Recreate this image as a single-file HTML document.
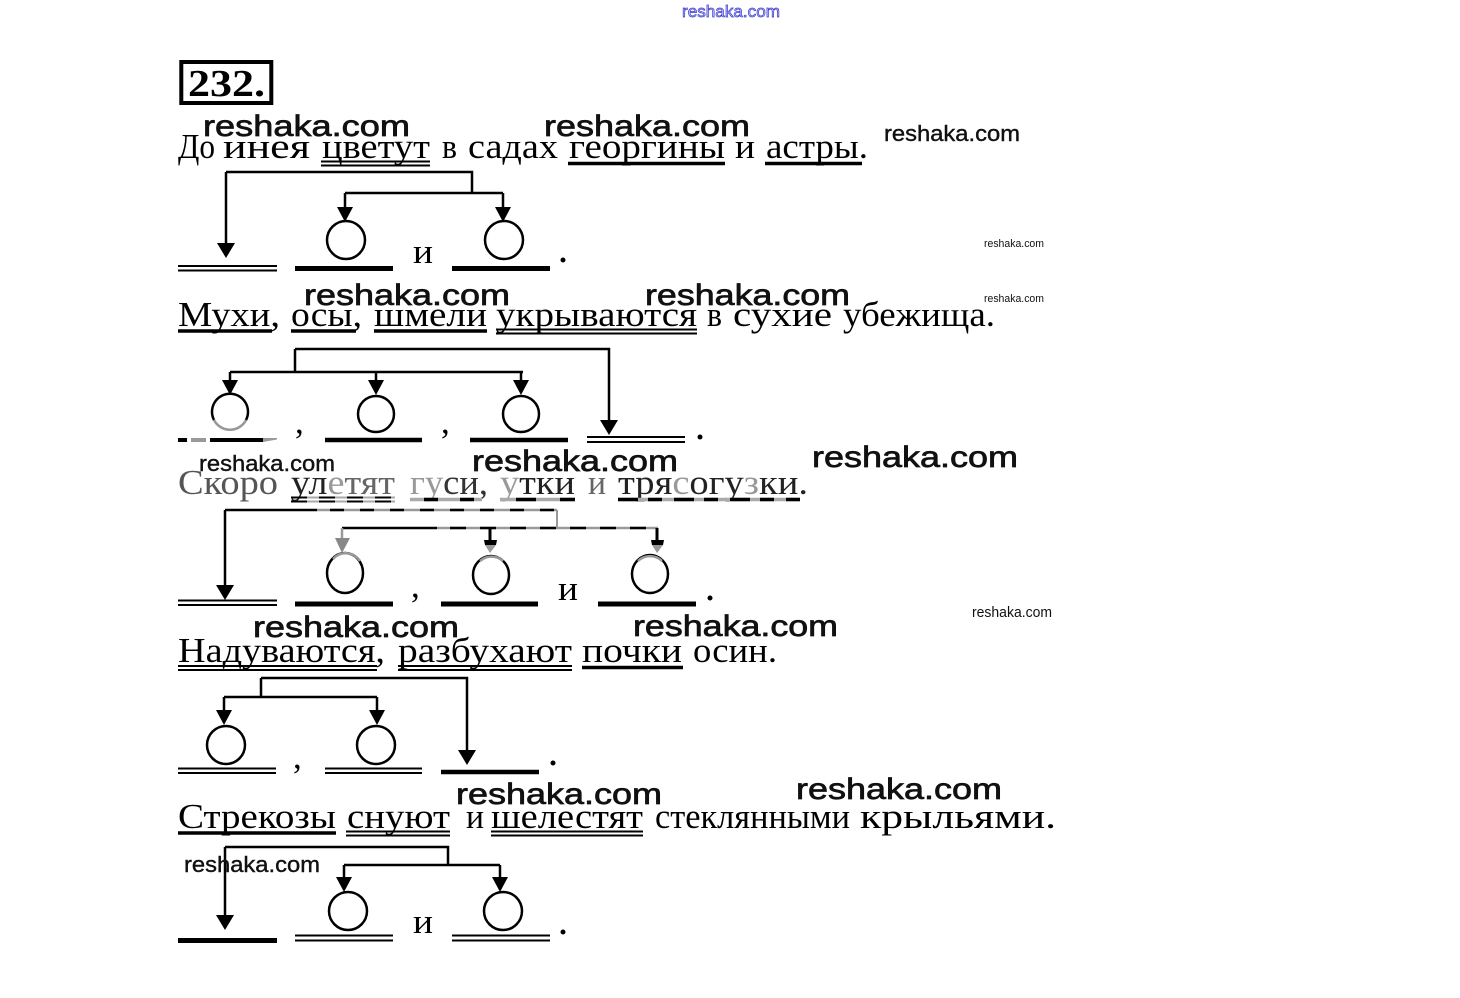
<!DOCTYPE html>
<html><head><meta charset="utf-8"><style>
html,body{margin:0;padding:0;background:#fff;}
svg{display:block;}
.s{font-family:"Liberation Serif","DejaVu Serif",serif;font-size:35px;fill:#000;}
.w{font-family:"Liberation Sans","DejaVu Sans",sans-serif;font-size:30px;fill:#111;stroke:#111;stroke-width:0.7;}
.ws{font-family:"Liberation Sans","DejaVu Sans",sans-serif;font-size:22px;fill:#111;stroke:#111;stroke-width:0.4;}
.wt{font-family:"Liberation Sans","DejaVu Sans",sans-serif;font-size:11px;fill:#111;}
.l{stroke:#000;stroke-width:2.5;fill:none;}
.c{stroke:#000;stroke-width:2.5;fill:none;}
</style></head><body>
<svg width="1460" height="998" viewBox="0 0 1460 998" xmlns="http://www.w3.org/2000/svg">
<rect width="1460" height="998" fill="#fff"/>
<!-- top blue watermark -->
<text x="682" y="17" font-family="Liberation Sans, sans-serif" font-size="17" textLength="98" lengthAdjust="spacingAndGlyphs" fill="#c8c8f4" stroke="#3a3ad0" stroke-width="0.7">reshaka.com</text>

<!-- 232. box -->
<rect x="181.3" y="62" width="90" height="41" fill="none" stroke="#000" stroke-width="4"/>
<text x="188" y="96" font-family="Liberation Serif, serif" font-weight="bold" font-size="38" textLength="77" lengthAdjust="spacingAndGlyphs">232.</text>

<!-- ========== Sentence 1 ========== -->
<g class="s">
<text x="178" y="158" textLength="37" lengthAdjust="spacingAndGlyphs">До</text>
<text x="223" y="158" textLength="87" lengthAdjust="spacingAndGlyphs">инея</text>
<text x="322" y="158" textLength="108" lengthAdjust="spacingAndGlyphs">цветут</text>
<text x="442" y="158" textLength="15" lengthAdjust="spacingAndGlyphs">в</text>
<text x="468" y="158" textLength="90" lengthAdjust="spacingAndGlyphs">садах</text>
<text x="569" y="158" textLength="156" lengthAdjust="spacingAndGlyphs">георгины</text>
<text x="735" y="158" textLength="20" lengthAdjust="spacingAndGlyphs">и</text>
<text x="766" y="158" textLength="102" lengthAdjust="spacingAndGlyphs">астры.</text>
</g>
<g stroke="#000" fill="none">
<line x1="321" y1="161.5" x2="430" y2="161.5" stroke-width="2"/>
<line x1="321" y1="165.5" x2="430" y2="165.5" stroke-width="2"/>
<line x1="568" y1="163.5" x2="725" y2="163.5" stroke-width="3.5"/>
<line x1="765" y1="163.5" x2="862" y2="163.5" stroke-width="3.5"/>
</g>
<text class="w" x="203" y="136" textLength="207" lengthAdjust="spacingAndGlyphs">reshaka.com</text>
<text class="w" x="544" y="136" textLength="206" lengthAdjust="spacingAndGlyphs">reshaka.com</text>
<text class="ws" x="884" y="141" textLength="136" lengthAdjust="spacingAndGlyphs">reshaka.com</text>
<text class="wt" x="984" y="247" textLength="60" lengthAdjust="spacingAndGlyphs">reshaka.com</text>

<!-- Diagram 1 -->
<path class="l" d="M226 172 H472 V193 M226 172 V245 M345 193 H503 M345 193 V208 M503 193 V208"/>
<polygon points="217,243 235,243 226,258"/>
<polygon points="337,207 353,207 345,222"/>
<polygon points="495,207 511,207 503,222"/>
<circle class="c" cx="346" cy="240" r="19"/>
<circle class="c" cx="504" cy="240" r="19"/>
<g stroke="#000">
<line x1="178" y1="266" x2="277" y2="266" stroke-width="2"/>
<line x1="178" y1="270.5" x2="277" y2="270.5" stroke-width="2"/>
<line x1="295" y1="268.5" x2="393" y2="268.5" stroke-width="5"/>
<line x1="452" y1="268.5" x2="550" y2="268.5" stroke-width="5"/>
</g>
<text class="s" x="413" y="263" textLength="20" lengthAdjust="spacingAndGlyphs">и</text>
<circle cx="563" cy="260" r="2.5"/>

<!-- ========== Sentence 2 ========== -->
<g class="s">
<text x="178" y="326" textLength="102" lengthAdjust="spacingAndGlyphs">Мухи,</text>
<text x="291" y="326" textLength="71" lengthAdjust="spacingAndGlyphs">осы,</text>
<text x="374" y="326" textLength="113" lengthAdjust="spacingAndGlyphs">шмели</text>
<text x="496" y="326" textLength="201" lengthAdjust="spacingAndGlyphs">укрываются</text>
<text x="707" y="326" textLength="15" lengthAdjust="spacingAndGlyphs">в</text>
<text x="733" y="326" textLength="99" lengthAdjust="spacingAndGlyphs">сухие</text>
<text x="843" y="326" textLength="152" lengthAdjust="spacingAndGlyphs">убежища.</text>
</g>
<g stroke="#000" fill="none">
<line x1="178" y1="331" x2="272" y2="331" stroke-width="3.5"/>
<line x1="291" y1="331" x2="356" y2="331" stroke-width="3.5"/>
<line x1="374" y1="331" x2="487" y2="331" stroke-width="3.5"/>
<line x1="496" y1="329.5" x2="697" y2="329.5" stroke-width="2"/>
<line x1="496" y1="333.5" x2="697" y2="333.5" stroke-width="2"/>
</g>
<text class="w" x="304" y="305" textLength="206" lengthAdjust="spacingAndGlyphs">reshaka.com</text>
<text class="w" x="645" y="305" textLength="205" lengthAdjust="spacingAndGlyphs">reshaka.com</text>
<text class="wt" x="984" y="302" textLength="60" lengthAdjust="spacingAndGlyphs">reshaka.com</text>

<!-- Diagram 2 -->
<path class="l" d="M295 349 H609 V421 M295 349 V372 M230 372 H523 M230 372 V381 M376 372 V381 M521 372 V381"/>
<polygon points="600,420 618,420 609,435"/>
<polygon points="222,380 238,380 230,395"/>
<polygon points="368,380 384,380 376,395"/>
<polygon points="513,380 529,380 521,395"/>
<path class="c" d="M214 420 A18 18 0 1 1 246 420"/>
<path d="M246 420 A18 18 0 0 1 214 420" fill="none" stroke="#999" stroke-width="2.5"/>
<circle class="c" cx="376" cy="414" r="18"/>
<circle class="c" cx="521" cy="414" r="18"/>
<g stroke="#000">
<line x1="178" y1="440" x2="187" y2="440" stroke-width="4"/>
<line x1="191" y1="440" x2="206" y2="440" stroke-width="4" stroke="#999"/>
<line x1="210" y1="440" x2="263" y2="440" stroke-width="4"/>
<polygon points="263,438 277,438 277,439.5 263,442" fill="#999" stroke="none"/>
<line x1="325" y1="440" x2="422" y2="440" stroke-width="4.5"/>
<line x1="470" y1="440" x2="568" y2="440" stroke-width="4.5"/>
<line x1="587" y1="437" x2="685" y2="437" stroke-width="2"/>
<line x1="587" y1="442" x2="685" y2="442" stroke-width="2"/>
</g>
<text class="s" x="295" y="433">,</text>
<text class="s" x="441" y="433">,</text>
<circle cx="700" cy="437" r="2.5"/>

<!-- ========== Sentence 3 ========== -->
<g class="s">
<text x="178" y="494" textLength="100" lengthAdjust="spacingAndGlyphs" fill="#555">Скоро</text>
<text x="291" y="494" textLength="104" lengthAdjust="spacingAndGlyphs"><tspan fill="#222">ул</tspan><tspan fill="#999">е</tspan><tspan fill="#666">тят</tspan></text>
<text x="410" y="494" textLength="78" lengthAdjust="spacingAndGlyphs"><tspan fill="#999">гу</tspan><tspan fill="#333">си,</tspan></text>
<text x="500" y="494" textLength="75" lengthAdjust="spacingAndGlyphs"><tspan fill="#999">у</tspan><tspan fill="#222">тки</tspan></text>
<text x="588" y="494" textLength="18" lengthAdjust="spacingAndGlyphs" fill="#666">и</text>
<text x="618" y="494" textLength="190" lengthAdjust="spacingAndGlyphs"><tspan fill="#222">тря</tspan><tspan fill="#999">с</tspan><tspan fill="#222">огу</tspan><tspan fill="#999">з</tspan><tspan fill="#222">ки.</tspan></text>
</g>
<g fill="none">
<line x1="291" y1="497.5" x2="395" y2="497.5" stroke="#aaa" stroke-width="2"/>
<line x1="291" y1="501.5" x2="395" y2="501.5" stroke="#aaa" stroke-width="2"/>
<line x1="291" y1="497.5" x2="395" y2="497.5" stroke="#000" stroke-width="2" stroke-dasharray="16 12"/>
<line x1="291" y1="501.5" x2="395" y2="501.5" stroke="#000" stroke-width="2" stroke-dasharray="16 12"/>
<line x1="410" y1="499.5" x2="482" y2="499.5" stroke="#aaa" stroke-width="3.5"/>
<line x1="410" y1="499.5" x2="482" y2="499.5" stroke="#000" stroke-width="3.5" stroke-dasharray="0 14 14 8"/>
<line x1="500" y1="499.5" x2="575" y2="499.5" stroke="#aaa" stroke-width="3.5"/>
<line x1="500" y1="499.5" x2="575" y2="499.5" stroke="#000" stroke-width="3.5" stroke-dasharray="0 16 20 8"/>
<line x1="618" y1="499.5" x2="800" y2="499.5" stroke="#aaa" stroke-width="3.5"/>
<line x1="618" y1="499.5" x2="800" y2="499.5" stroke="#000" stroke-width="3.5" stroke-dasharray="20 10 14 12"/>
</g>
<text class="ws" x="199" y="471" textLength="136" lengthAdjust="spacingAndGlyphs">reshaka.com</text>
<text class="w" x="472" y="471" textLength="206" lengthAdjust="spacingAndGlyphs">reshaka.com</text>
<text class="w" x="812" y="467" textLength="206" lengthAdjust="spacingAndGlyphs">reshaka.com</text>

<!-- Diagram 3 -->
<path class="l" d="M225 510 V586 M225 510 H317"/>
<line x1="317" y1="510" x2="557" y2="510" stroke="#999" stroke-width="2.5"/>
<line x1="330" y1="510" x2="557" y2="510" stroke="#000" stroke-width="2.5" stroke-dasharray="14 16"/>
<line x1="557" y1="510" x2="557" y2="528" stroke="#999" stroke-width="2"/>
<path class="l" d="M342 528 H437"/>
<line x1="437" y1="528" x2="658" y2="528" stroke="#999" stroke-width="2.5"/>
<line x1="450" y1="528" x2="658" y2="528" stroke="#000" stroke-width="2.5" stroke-dasharray="16 14"/>
<line x1="342" y1="528" x2="342" y2="540" stroke="#999" stroke-width="2.5"/>
<polygon points="335,538 350,538 342,553" fill="#888"/>
<line x1="490" y1="528" x2="490" y2="542" stroke="#000" stroke-width="3"/>
<polygon points="484,540 497,540 496,545 485,545"/>
<polygon points="485,545 496,545 490,553" fill="#999"/>
<line x1="657" y1="528" x2="657" y2="542" stroke="#000" stroke-width="3"/>
<polygon points="651,540 664,540 663,545 652,545"/>
<polygon points="652,545 663,545 657,553" fill="#999"/>
<polygon points="216,585 234,585 225,600"/>
<ellipse class="c" cx="345" cy="573" rx="18" ry="20"/>
<path d="M333 559 A18 20 0 0 1 360 561" fill="none" stroke="#999" stroke-width="2.5"/>
<ellipse class="c" cx="491" cy="575" rx="18" ry="19"/>
<path d="M480 561 A18 19 0 0 1 503 561" fill="none" stroke="#999" stroke-width="2.5"/>
<ellipse class="c" cx="650" cy="574" rx="18" ry="19"/>
<path d="M638 561 A18 19 0 0 1 662 561" fill="none" stroke="#999" stroke-width="2.5"/>
<g stroke="#000">
<line x1="178" y1="600.5" x2="277" y2="600.5" stroke-width="2"/>
<line x1="178" y1="605" x2="277" y2="605" stroke-width="2"/>
<line x1="295" y1="604" x2="393" y2="604" stroke-width="5"/>
<line x1="441" y1="604" x2="538" y2="604" stroke-width="5"/>
<line x1="598" y1="604" x2="696" y2="604" stroke-width="5"/>
</g>
<text class="s" x="411" y="597">,</text>
<text class="s" x="558" y="600" textLength="20" lengthAdjust="spacingAndGlyphs">и</text>
<circle cx="710" cy="598" r="2.5"/>

<!-- ========== Sentence 4 ========== -->
<g class="s">
<text x="178" y="662" textLength="207" lengthAdjust="spacingAndGlyphs">Надуваются,</text>
<text x="398" y="662" textLength="174" lengthAdjust="spacingAndGlyphs">разбухают</text>
<text x="582" y="662" textLength="100" lengthAdjust="spacingAndGlyphs">почки</text>
<text x="693" y="662" textLength="84" lengthAdjust="spacingAndGlyphs">осин.</text>
</g>
<g stroke="#000" fill="none">
<line x1="178" y1="666" x2="377" y2="666" stroke-width="2"/>
<line x1="178" y1="670" x2="377" y2="670" stroke-width="2"/>
<line x1="398" y1="666" x2="572" y2="666" stroke-width="2"/>
<line x1="398" y1="670" x2="572" y2="670" stroke-width="2"/>
<line x1="582" y1="667.5" x2="683" y2="667.5" stroke-width="3.5"/>
</g>
<text class="w" x="253" y="637" textLength="206" lengthAdjust="spacingAndGlyphs">reshaka.com</text>
<text class="w" x="633" y="636" textLength="205" lengthAdjust="spacingAndGlyphs">reshaka.com</text>
<text x="972" y="617" font-family="Liberation Sans, sans-serif" font-size="15" fill="#111" textLength="80" lengthAdjust="spacingAndGlyphs">reshaka.com</text>

<!-- Diagram 4 -->
<path class="l" d="M261 678 H467 V751 M261 678 V697 M224 697 H377 M224 697 V711 M377 697 V711"/>
<polygon points="458,750 476,750 467,765"/>
<polygon points="216,710 232,710 224,725"/>
<polygon points="369,710 385,710 377,725"/>
<circle class="c" cx="226" cy="745" r="19"/>
<circle class="c" cx="376" cy="745" r="19"/>
<g stroke="#000">
<line x1="178" y1="768.5" x2="276" y2="768.5" stroke-width="2"/>
<line x1="178" y1="773" x2="276" y2="773" stroke-width="2"/>
<line x1="325" y1="768.5" x2="422" y2="768.5" stroke-width="2"/>
<line x1="325" y1="773" x2="422" y2="773" stroke-width="2"/>
<line x1="441" y1="772" x2="539" y2="772" stroke-width="4.5"/>
</g>
<text class="s" x="293" y="768">,</text>
<circle cx="553" cy="763" r="2.5"/>

<!-- ========== Sentence 5 ========== -->
<g class="s">
<text x="178" y="828" textLength="158" lengthAdjust="spacingAndGlyphs">Стрекозы</text>
<text x="347" y="828" textLength="103" lengthAdjust="spacingAndGlyphs">снуют</text>
<text x="466" y="828" textLength="18" lengthAdjust="spacingAndGlyphs">и</text>
<text x="491" y="828" textLength="152" lengthAdjust="spacingAndGlyphs">шелестят</text>
<text x="655" y="828" textLength="195" lengthAdjust="spacingAndGlyphs">стеклянными</text>
<text x="860" y="828" textLength="196" lengthAdjust="spacingAndGlyphs">крыльями.</text>
</g>
<g stroke="#000" fill="none">
<line x1="178" y1="833" x2="336" y2="833" stroke-width="3.5"/>
<line x1="346" y1="831.5" x2="450" y2="831.5" stroke-width="2"/>
<line x1="346" y1="835.5" x2="450" y2="835.5" stroke-width="2"/>
<line x1="491" y1="831.5" x2="643" y2="831.5" stroke-width="2"/>
<line x1="491" y1="835.5" x2="643" y2="835.5" stroke-width="2"/>
</g>
<text class="w" x="456" y="804" textLength="206" lengthAdjust="spacingAndGlyphs">reshaka.com</text>
<text class="w" x="796" y="799" textLength="206" lengthAdjust="spacingAndGlyphs">reshaka.com</text>

<!-- Diagram 5 -->
<path class="l" d="M225 847 H448 V865 M225 847 V916 M344 865 H500 M344 865 V878 M500 865 V878"/>
<text class="ws" x="184" y="872" textLength="136" lengthAdjust="spacingAndGlyphs">reshaka.com</text>
<polygon points="216,915 234,915 225,930"/>
<polygon points="336,877 352,877 344,892"/>
<polygon points="492,877 508,877 500,892"/>
<circle class="c" cx="348" cy="911" r="19"/>
<circle class="c" cx="503" cy="911" r="19"/>
<g stroke="#000">
<line x1="178" y1="940.5" x2="277" y2="940.5" stroke-width="5"/>
<line x1="295" y1="935.5" x2="393" y2="935.5" stroke-width="2"/>
<line x1="295" y1="940.5" x2="393" y2="940.5" stroke-width="2"/>
<line x1="452" y1="935.5" x2="550" y2="935.5" stroke-width="2"/>
<line x1="452" y1="940.5" x2="550" y2="940.5" stroke-width="2"/>
</g>
<text class="s" x="413" y="933" textLength="20" lengthAdjust="spacingAndGlyphs">и</text>
<circle cx="563" cy="932" r="2.5"/>
</svg>
</body></html>
